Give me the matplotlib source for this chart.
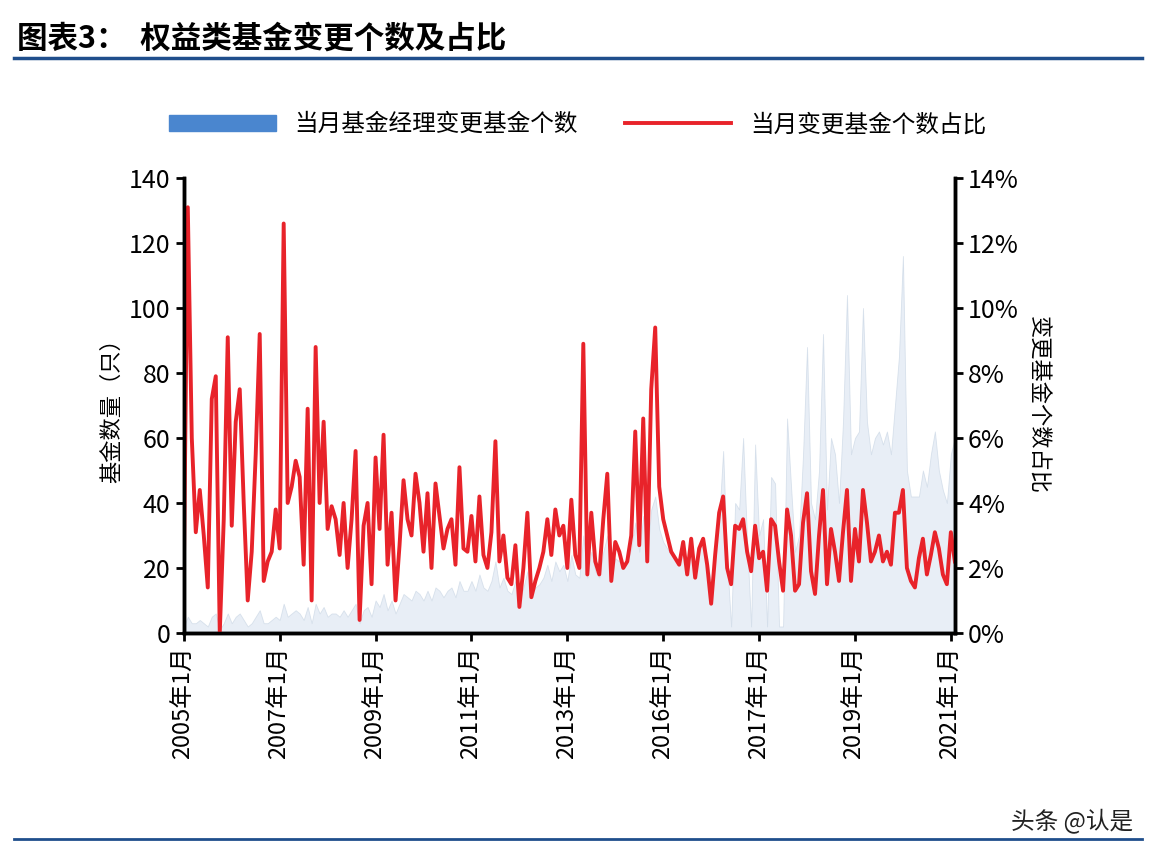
import matplotlib.pyplot as plt
from matplotlib.ticker import PercentFormatter

plt.rcParams['font.family'] = ['Noto Sans CJK SC', 'DejaVu Sans']

# 当月变更基金个数占比 (%), monthly from 2005-01
ratio = [
    1.8, 13.1, 6, 3.1, 4.4, 3, 1.4, 7.2, 7.9, 0, 3.5, 9.1, 3.3, 6.5, 7.5, 4, 1, 2.5, 5.5, 9.2, 1.6, 2.2, 2.5, 3.8,
    2.6, 12.6, 4, 4.5, 5.3, 4.8, 2.1, 6.9, 1, 8.8, 4, 6.5, 3.2, 3.9, 3.5, 2.4, 4, 2, 3.5, 5.6, 0.4, 3.3, 4, 1.5,
    5.4, 3.2, 6.1, 2.1, 3.7, 1, 2.7, 4.7, 3.5, 3, 4.9, 4, 2.5, 4.3, 2, 4.6, 3.6, 2.6, 3.2, 3.5, 2.1, 5.1, 2.6, 2.5,
    3.6, 2.2, 4.2, 2.4, 2, 3.1, 5.9, 2.2, 3, 1.7, 1.5, 2.7, 0.8, 2, 3.7, 1.1, 1.6, 2, 2.5, 3.5, 2.4, 3.8, 3, 3.3,
    2, 4.1, 2.4, 2, 8.9, 1.8, 3.7, 2.2, 1.8, 3.5, 4.9, 1.6, 2.8, 2.5, 2, 2.2, 3, 6.2, 2.7, 6.6, 2.2, 7.5, 9.4, 4.5,
    3.5, 3, 2.5, 2.3, 2.1, 2.8, 1.8, 2.9, 1.7, 2.6, 2.9, 2.1, 0.9, 2.4, 3.7, 4.2, 2, 1.5, 3.3, 3.2, 3.5, 2.5, 1.9, 3.3,
    2.3, 2.5, 1.3, 3.5, 3.3, 2.2, 1.3, 3.8, 3, 1.3, 1.5, 3.4, 4.3, 1.9, 1.2, 3, 4.4, 1.5, 3.2, 2.5, 1.6, 3.1, 4.4, 1.6,
    3.2, 2.2, 4.4, 3.4, 2.2, 2.5, 3, 2.2, 2.5, 2.1, 3.7, 3.7, 4.4, 2, 1.6, 1.4, 2.3, 2.9, 1.8, 2.4, 3.1, 2.6, 1.8, 1.5,
    3.1, 2.2,
]

# 当月基金经理变更基金个数
counts = [
    2, 5, 3, 3, 4, 3, 2, 5, 6, 1, 3, 6, 3, 5, 6, 4, 2, 3, 5, 7, 3, 3, 4, 5,
    4, 9, 5, 6, 7, 6, 4, 8, 3, 9, 6, 8, 5, 6, 6, 5, 7, 5, 7, 9, 3, 7, 8, 5,
    10, 8, 12, 7, 10, 6, 9, 12, 11, 10, 13, 12, 10, 13, 10, 14, 13, 11, 13, 14, 11, 16, 13, 13,
    16, 13, 18, 14, 13, 16, 22, 14, 17, 13, 12, 16, 10, 14, 19, 12, 14, 15, 17, 21, 16, 22, 19, 21,
    16, 24, 18, 17, 30, 17, 25, 19, 17, 25, 30, 17, 23, 22, 20, 22, 26, 34, 25, 36, 24, 38, 42, 32,
    28, 26, 24, 23, 22, 26, 20, 27, 20, 25, 27, 23, 15, 25, 35, 56, 22, 2, 40, 38, 60, 28, 2, 58,
    30, 35, 2, 48, 46, 2, 2, 66, 45, 25, 30, 55, 88, 40, 35, 50, 92, 38, 60, 55, 40, 65, 104, 55,
    60, 62, 100, 65, 55, 60, 62, 58, 62, 55, 70, 85, 116, 50, 42, 42, 42, 50, 45, 55, 62, 50, 44, 40,
    55, 60,
]

tick_labels = ['2005年1月', '2007年1月', '2009年1月', '2011年1月', '2013年1月',
               '2016年1月', '2017年1月', '2019年1月', '2021年1月']

x = list(range(len(ratio)))

fig = plt.figure(figsize=(11.56, 8.6), dpi=100)
ax = fig.add_axes([0.159, 0.264, 0.667, 0.529])
ax2 = ax.twinx()

ax.fill_between(x, counts, color='#dae4f0', alpha=0.6, linewidth=0.6, edgecolor='#c4d2e2')
ax2.plot(x, ratio, color='#e8232a', linewidth=2.8)
ax.set_zorder(1)
ax2.set_zorder(2)
ax.patch.set_visible(False)

ax.set_xlim(0, len(ratio) - 1)
ax.set_ylim(0, 140)
ax2.set_ylim(0, 14)
ax.set_yticks(range(0, 141, 20))
ax2.set_yticks(range(0, 15, 2))
ax2.yaxis.set_major_formatter(PercentFormatter(decimals=0))
ax.set_xticks(range(0, 193, 24))
ax.set_xticklabels(tick_labels, rotation=90, fontsize=17)
ax.tick_params(axis='y', labelsize=18, width=2, length=6)
ax2.tick_params(axis='y', labelsize=18, width=2, length=6)
ax.tick_params(axis='x', width=2, length=6)
for a in (ax, ax2):
    a.spines['top'].set_visible(False)
    for s in ('left', 'right', 'bottom'):
        a.spines[s].set_linewidth(2.5)
ax.set_ylabel('基金数量（只）', fontsize=16)
ax2.set_ylabel('变更基金个数占比', fontsize=16, rotation=270, labelpad=22)

ax.fill_between([], [], color='#4a86cf', label='当月基金经理变更基金个数')
ax.plot([], [], color='#e8232a', linewidth=2.8, label='当月变更基金个数占比')
fig.legend(loc='center', bbox_to_anchor=(0.5, 0.855), ncol=2, frameon=False,
           fontsize=17, handlelength=4.5)

fig.text(0.015, 0.955, '图表3：  权益类基金变更个数及占比', fontsize=22, fontweight='bold', va='center')
fig.add_artist(plt.Line2D([0.012, 0.988], [0.932, 0.932], color='#1f4e8c', linewidth=2.5))
fig.add_artist(plt.Line2D([0.012, 0.988], [0.025, 0.025], color='#1f4e8c', linewidth=2))
fig.text(0.98, 0.045, '头条 @认是', fontsize=17, ha='right', va='center', color='#222222')

fig.savefig('out.png', dpi=100)
